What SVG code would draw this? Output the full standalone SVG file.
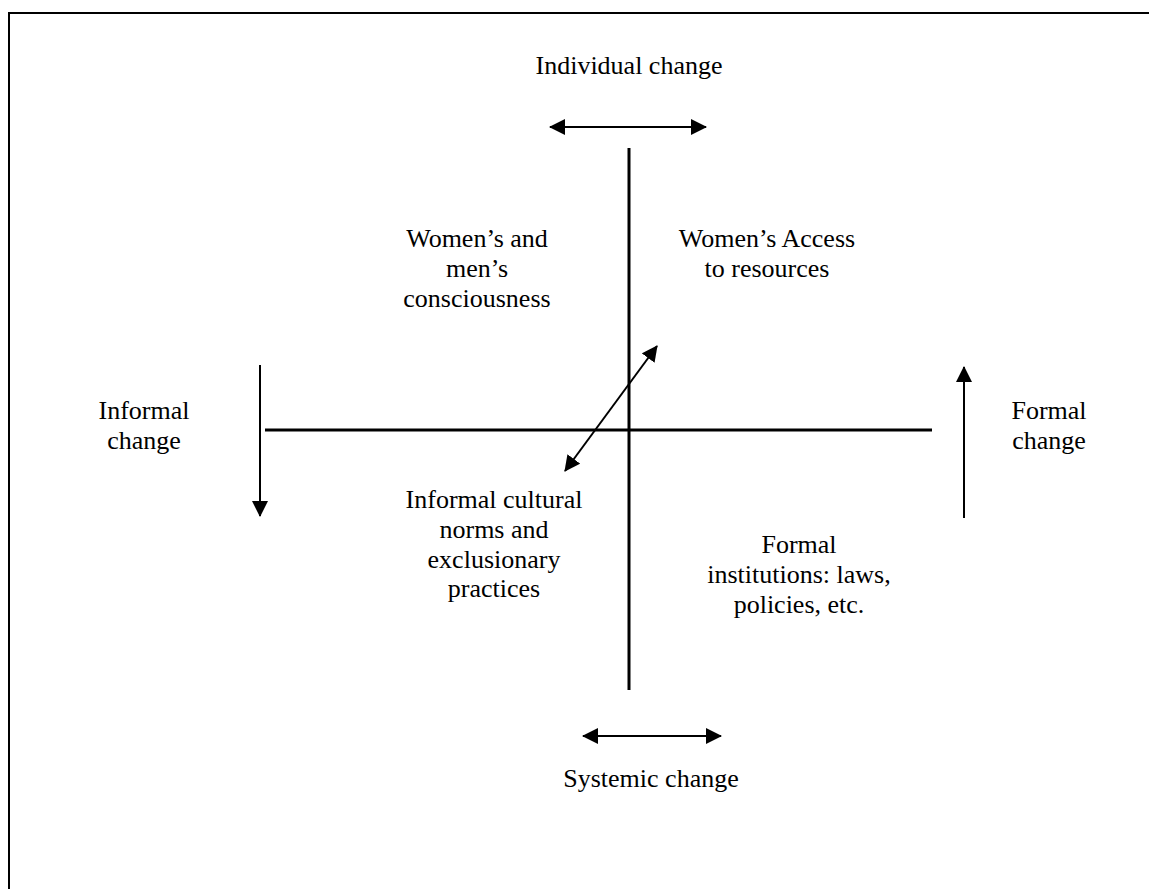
<svg xmlns="http://www.w3.org/2000/svg" width="1149" height="889" viewBox="0 0 1149 889">
<style>
text{font-family:"Liberation Serif","Times New Roman",serif;font-size:26px;fill:#000;text-anchor:middle}
.ax{stroke:#000;stroke-width:3;fill:none}
.ar{stroke:#000;stroke-width:2;fill:none}
</style>
<defs>
<marker id="ah" viewBox="0 0 16 16" refX="15" refY="8" markerWidth="16" markerHeight="16" markerUnits="userSpaceOnUse" orient="auto-start-reverse">
<path d="M0,0 L16,8 L0,16 z" fill="#000"/>
</marker>
</defs>
<rect width="1149" height="889" fill="#fff"/>
<g id="frame">
<path d="M9,889 V13 H1149" stroke="#000" stroke-width="2" fill="none"/>
</g>
<g id="connectors">
<line class="ax" x1="629" y1="148" x2="629" y2="690"/>
<line class="ax" x1="265" y1="430" x2="932" y2="430"/>
<line class="ar" x1="550" y1="127" x2="706" y2="127" marker-start="url(#ah)" marker-end="url(#ah)"/>
<line class="ar" x1="583" y1="736" x2="721" y2="736" marker-start="url(#ah)" marker-end="url(#ah)"/>
<line class="ar" x1="565" y1="471" x2="657" y2="346" marker-start="url(#ah)" marker-end="url(#ah)"/>
<line class="ar" x1="260" y1="365" x2="260" y2="516" marker-end="url(#ah)"/>
<line class="ar" x1="964" y1="518" x2="964" y2="367" marker-end="url(#ah)"/>
</g>
<g id="individual"><text x="629" y="74">Individual change</text></g>
<g id="consciousness"><text x="477" y="247">Women’s and</text><text x="477" y="277">men’s</text><text x="477" y="307">consciousness</text></g>
<g id="access"><text x="767" y="247">Women’s Access</text><text x="767" y="277">to resources</text></g>
<g id="informal"><text x="144" y="419">Informal</text><text x="144" y="449">change</text></g>
<g id="formal"><text x="1049" y="419">Formal</text><text x="1049" y="449">change</text></g>
<g id="norms"><text x="494" y="508">Informal cultural</text><text x="494" y="538">norms and</text><text x="494" y="568">exclusionary</text><text x="494" y="597">practices</text></g>
<g id="institutions"><text x="799" y="553">Formal</text><text x="799" y="583">institutions: laws,</text><text x="799" y="613">policies, etc.</text></g>
<g id="systemic"><text x="651" y="787">Systemic change</text></g>
</svg>
